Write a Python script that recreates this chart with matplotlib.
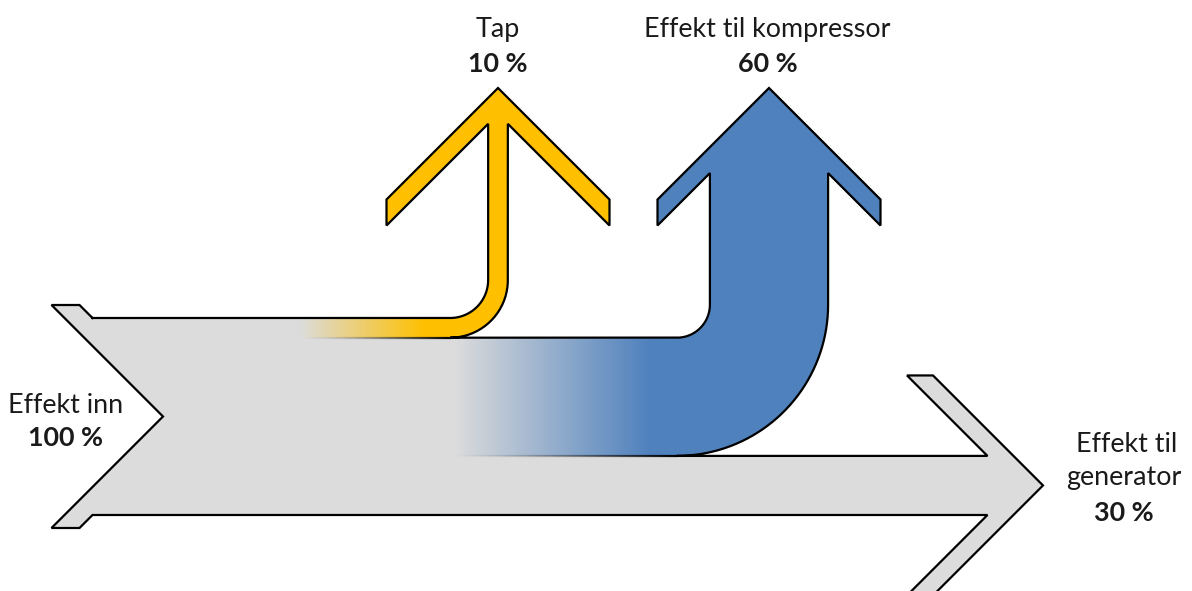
import numpy as np
import matplotlib
matplotlib.use("Agg")
import matplotlib.pyplot as plt
from matplotlib.path import Path
from matplotlib.patches import PathPatch, Polygon
from matplotlib.collections import LineCollection
from matplotlib.colors import to_rgb

# ---------------- data ----------------
flow_labels = ["Effekt inn", "Tap", "Effekt til kompressor", "Effekt til generator"]
flow_values = [100, 10, 60, 30]          # percent
value_texts = ["100 %", "10 %", "60 %", "30 %"]

GRAY = "#DCDCDC"
YELLOW = "#FFC000"
BLUE = "#4F81BD"
EDGE = "black"

plt.rcParams['font.family'] = ['Lato', 'DejaVu Sans']

W_PX, H_PX = 1192, 591
fig = plt.figure(figsize=(W_PX / 100, H_PX / 100), dpi=100)
ax = fig.add_axes([0, 0, 1, 1])
ax.set_axis_off()

# ---------------- layout (pixel space) ----------------
band_top = 318.0
band_total = 197.0
scale = band_total / flow_values[0]
w_tap = flow_values[1] * scale
w_komp = flow_values[2] * scale
w_gen = flow_values[3] * scale

y_tap0, y_tap1 = band_top, band_top + w_tap
y_komp0, y_komp1 = y_tap1, y_tap1 + w_komp
y_gen0, y_gen1 = y_komp1, y_komp1 + w_gen
y_mid = (band_top + y_gen1) / 2

tip_y = 88.0
H_head = 111.5
t_head = 26.0


def arc(cx, cy, r, a0, a1, n=40):
    a = np.radians(np.linspace(a0, a1, n))
    return list(zip(cx + r * np.cos(a), cy + r * np.sin(a)))


def head_up(xl, xr):
    hw = (xr - xl) / 2
    xc = (xl + xr) / 2
    st = tip_y + t_head + hw
    return [(xl, st), (xc - H_head, tip_y + H_head + t_head), (xc - H_head, tip_y + H_head),
            (xc, tip_y), (xc + H_head, tip_y + H_head), (xc + H_head, tip_y + H_head + t_head),
            (xr, st)]


# yellow (tap) branch
yc_x = 498.0
y_xl, y_xr = yc_x - w_tap / 2, yc_x + w_tap / 2
r_in_y = 38.0
ycx, ycy = y_xl - r_in_y, band_top - r_in_y
yellow_inner = arc(ycx, ycy, r_in_y, 90, 0)
yellow_head = head_up(y_xl, y_xr)
yellow_outer = arc(ycx, ycy, r_in_y + w_tap, 0, 90)

# blue (compressor) branch
bc_x = 769.0
b_xl, b_xr = bc_x - w_komp / 2, bc_x + w_komp / 2
r_in_b = 33.0
bcx, bcy = b_xl - r_in_b, y_komp0 - r_in_b
blue_inner = arc(bcx, bcy, r_in_b, 90, 0)
blue_head = head_up(b_xl, b_xr)
blue_outer = arc(bcx, bcy, r_in_b + w_komp, 0, 90)

# gray output arrow head
g_tip = 1043.0
gH, gt = 110.0, 26.0
g_hw = w_gen / 2
g_mid = (y_gen0 + y_gen1) / 2
g_in = g_tip - gt - g_hw
gray_head = [(g_in, y_gen0), (g_tip - gH - gt, g_mid - gH), (g_tip - gH, g_mid - gH),
             (g_tip, g_mid), (g_tip - gH, g_mid + gH), (g_tip - gH - gt, g_mid + gH),
             (g_in, y_gen1)]

# tail notch
notch_x = 163.0
e_fl, t_fl = 13.0, 28.0
tl_x = notch_x - (y_mid - band_top) - e_fl
tail_top = [(tl_x + t_fl + e_fl, band_top), (tl_x + t_fl, band_top - e_fl), (tl_x, band_top - e_fl)]
tail_bot = [(tl_x, y_gen1 + e_fl), (tl_x + t_fl, y_gen1 + e_fl), (tl_x + t_fl + e_fl, y_gen1)]

# ---------------- gray body ----------------
gray_pts = ([tail_top[0], (ycx, band_top), (ycx, y_tap1), (bcx, y_komp0), (bcx, y_komp1)]
            + gray_head + [tail_bot[2], tail_bot[1], tail_bot[0], (notch_x, y_mid),
                           tail_top[2], tail_top[1]])
ax.add_patch(Polygon(gray_pts, closed=True, facecolor=GRAY, edgecolor='none', zorder=1))


def gradient_fill(pts, x0, x1, c0, c1, xmin, xmax, ymin, ymax, y_solid):
    path = Path(pts + [pts[0]], closed=True)
    patch = PathPatch(path, facecolor='none', edgecolor='none', transform=ax.transData)
    ax.add_patch(patch)
    xs = np.linspace(xmin, xmax, 800)
    ys = np.linspace(ymin, ymax, 300)
    f = np.clip((xs[None, :] - x0) / (x1 - x0), 0, 1) * np.ones((len(ys), 1))
    f[ys < y_solid, :] = 1.0
    cols = (1 - f)[:, :, None] * np.array(to_rgb(c0)) + f[:, :, None] * np.array(to_rgb(c1))
    im = ax.imshow(cols, extent=(xmin, xmax, ymax, ymin), origin='upper', aspect='auto',
                   interpolation='bilinear', zorder=2)
    im.set_clip_path(patch)


# yellow shape
y_start = 295.0
yellow_pts = ([(y_start, band_top), (ycx, band_top)] + yellow_inner + yellow_head
              + yellow_outer + [(ycx, y_tap1), (y_start, y_tap1)])
gradient_fill(yellow_pts, 300, 425, GRAY, YELLOW, y_start, 620, 80, y_tap1 + 2, band_top - 8)

# blue shape
b_start = 450.0
blue_pts = ([(b_start, y_komp0), (bcx, y_komp0)] + blue_inner + blue_head
            + blue_outer + [(bcx, y_komp1), (b_start, y_komp1)])
gradient_fill(blue_pts, 455, 650, GRAY, BLUE, b_start, 890, 80, y_komp1 + 2, y_komp0 - 8)

# ---------------- outline ----------------
outline = ([tail_top[0], (ycx, band_top)] + yellow_inner + yellow_head + yellow_outer
           + [(bcx, y_tap1)] + blue_inner + blue_head + blue_outer
           + gray_head + [tail_bot[2], tail_bot[1], tail_bot[0], (notch_x, y_mid),
                          tail_top[2], tail_top[1], tail_top[0]])
ox, oy = zip(*outline)
ax.plot(ox, oy, color=EDGE, lw=1.6, solid_joinstyle='miter', zorder=3)


def faded_line(x0, x1, y, xf0, xf1):
    xs = np.linspace(x0, x1, 120)
    segs = [[(xs[i], y), (xs[i + 1], y)] for i in range(len(xs) - 1)]
    xm = (xs[:-1] + xs[1:]) / 2
    a = np.clip((xm - xf0) / (xf1 - xf0), 0, 1) ** 1.5
    cols = [(0, 0, 0, ai) for ai in a]
    ax.add_collection(LineCollection(segs, colors=cols, linewidths=1.6, zorder=3))


faded_line(y_start, ycx + 1, y_tap1, 300, ycx)
faded_line(b_start, bcx + 1, y_komp1, 450, bcx)

# ---------------- labels ----------------
TXT = '#1a1a1a'
FS = 19.4
ax.text(66, 413, flow_labels[0], ha='center', va='baseline', fontsize=FS, color=TXT)
ax.text(65, 446, value_texts[0], ha='center', va='baseline', fontsize=FS, color=TXT, fontweight='bold')

ax.text(yc_x, 37, flow_labels[1], ha='center', va='baseline', fontsize=FS, color=TXT)
ax.text(yc_x, 72, value_texts[1], ha='center', va='baseline', fontsize=FS, color=TXT, fontweight='bold')

ax.text(bc_x - 2, 37, flow_labels[2], ha='center', va='baseline', fontsize=FS, color=TXT)
ax.text(bc_x - 1, 72, value_texts[2], ha='center', va='baseline', fontsize=FS, color=TXT, fontweight='bold')

gen_words = flow_labels[3].rsplit(' ', 1)
ax.text(1127, 452, gen_words[0], ha='center', va='baseline', fontsize=FS, color=TXT)
ax.text(1124, 485, gen_words[1], ha='center', va='baseline', fontsize=FS, color=TXT)
ax.text(1124, 521, value_texts[3], ha='center', va='baseline', fontsize=FS, color=TXT, fontweight='bold')

ax.set_xlim(0, W_PX)
ax.set_ylim(H_PX, 0)
fig.savefig("out.png", dpi=100)
